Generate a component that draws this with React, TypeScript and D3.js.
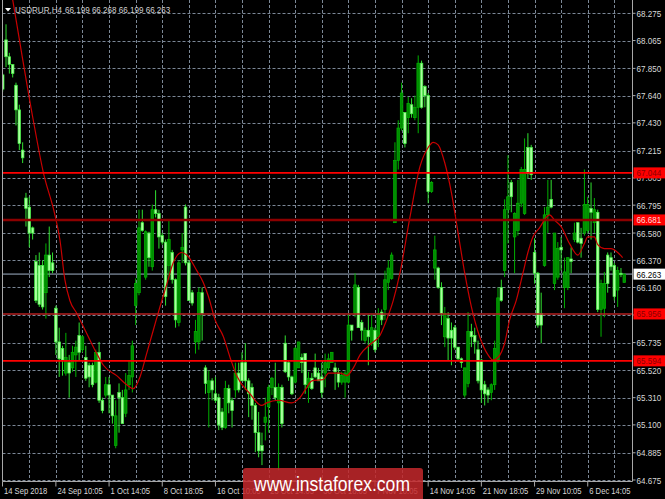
import React from "react";
import * as d3 from "d3";

// ---- Data ----
const barOpen = [
  67.80, 68.07, 67.94, 67.88, 67.72, 67.53, 67.22, 66.85, 66.78, 66.62,
  66.36, 66.33, 66.33, 66.12, 66.41, 66.35, 66.00, 65.74, 65.69, 65.50,
  65.58, 65.54, 65.64, 65.79, 65.68, 65.62, 65.56, 65.56, 65.43, 65.66,
  65.29, 65.33, 65.41, 65.33, 64.94, 65.35, 65.31, 65.19, 65.41, 65.47,
  66.02, 66.12, 66.66, 66.24, 66.58, 66.32, 66.76, 66.73, 66.56, 66.51,
  66.33, 66.43, 66.22, 65.89, 66.45, 66.78, 66.35, 66.12, 65.74, 65.74,
  66.12, 65.54, 65.35, 65.44, 65.34, 65.31, 65.20, 65.08, 65.38, 65.29,
  65.37, 65.50, 65.58, 65.58, 65.44, 65.39, 65.25, 65.04, 64.94, 65.12,
  65.24, 65.39, 65.39, 65.27, 65.39, 65.73, 65.58, 65.47, 65.43, 65.54,
  65.62, 65.65, 65.39, 65.46, 65.54, 65.50, 65.47, 65.50, 65.54, 65.58,
  65.54, 65.50, 65.43, 65.43, 65.43, 65.87, 65.96, 66.16, 65.89, 65.75,
  65.83, 65.73, 65.83, 65.78, 65.97, 65.99, 66.20, 66.23, 66.66, 67.14,
  67.39, 67.51, 67.47, 67.57, 67.47, 67.55, 67.89, 67.71, 67.64, 66.90,
  66.31, 66.31, 66.16, 65.78, 65.92, 65.83, 65.85, 65.70, 65.61, 65.33,
  65.42, 65.82, 65.79, 65.68, 65.60, 65.41, 65.37, 65.35, 65.41, 65.60,
  66.16, 66.29, 66.76, 66.97, 66.55, 66.60, 66.81, 66.73, 67.24, 67.24,
  66.43, 66.27, 65.96, 66.33, 66.72, 66.84, 66.19, 66.24, 66.47, 66.16,
  66.16, 66.38, 66.53, 66.66, 66.54, 66.58, 66.60, 66.77, 66.66, 66.74,
  65.99, 66.00, 66.41, 66.39, 66.33, 66.14, 66.27, 66.199,
];
const barHigh = [
  67.81, 68.19, 67.97, 67.88, 67.74, 67.57, 67.28, 66.89, 66.86, 66.63,
  66.41, 66.43, 66.37, 66.50, 66.63, 66.43, 66.02, 65.85, 65.71, 65.81,
  65.64, 65.71, 65.75, 65.89, 65.79, 65.71, 65.58, 65.58, 65.68, 65.74,
  65.31, 65.47, 65.47, 65.33, 65.29, 65.42, 65.37, 65.50, 65.60, 65.75,
  66.23, 66.76, 66.76, 66.60, 66.59, 66.80, 66.91, 66.76, 66.58, 66.53,
  66.68, 66.45, 66.23, 66.37, 66.58, 66.80, 66.37, 66.14, 65.91, 66.16,
  66.16, 65.56, 65.52, 65.46, 65.47, 65.34, 65.23, 65.44, 65.41, 65.31,
  65.58, 65.58, 65.66, 65.73, 65.46, 65.42, 65.27, 65.20, 65.04, 65.31,
  65.41, 65.47, 65.58, 65.42, 65.41, 65.79, 65.60, 65.48, 65.70, 65.74,
  65.65, 65.65, 65.51, 65.50, 65.65, 65.54, 65.58, 65.65, 65.65, 65.66,
  65.58, 65.54, 65.51, 65.52, 65.96, 65.87, 66.27, 66.18, 65.91, 65.85,
  65.95, 65.95, 65.85, 66.00, 65.99, 66.29, 66.37, 66.43, 67.28, 67.45,
  67.74, 67.51, 67.63, 67.62, 67.64, 67.95, 67.91, 67.72, 67.66, 66.98,
  66.56, 66.32, 66.20, 66.01, 65.97, 65.89, 65.87, 65.70, 65.62, 65.54,
  65.97, 65.88, 65.85, 65.75, 65.61, 65.44, 65.39, 65.42, 65.75, 66.16,
  66.22, 66.84, 67.18, 66.99, 66.74, 66.99, 67.09, 67.31, 67.35, 67.26,
  66.54, 66.28, 66.12, 66.78, 66.99, 66.99, 66.58, 66.51, 66.55, 66.39,
  66.39, 66.47, 66.66, 66.66, 66.62, 67.07, 66.86, 66.97, 66.85, 66.76,
  66.22, 66.28, 66.43, 66.43, 66.35, 66.32, 66.31, 66.268,
];
const barLow = [
  67.67, 67.86, 67.81, 67.78, 67.41, 67.22, 67.12, 66.63, 66.47, 66.53,
  66.04, 66.01, 65.99, 65.92, 66.24, 66.27, 65.64, 65.47, 65.48, 65.48,
  65.31, 65.51, 65.47, 65.60, 65.66, 65.44, 65.39, 65.39, 65.42, 65.27,
  65.19, 65.31, 65.19, 65.11, 64.92, 65.04, 65.11, 65.16, 65.37, 65.35,
  65.87, 66.10, 66.59, 66.22, 66.32, 66.29, 66.70, 66.46, 66.49, 66.02,
  66.22, 66.19, 65.85, 65.86, 66.35, 66.33, 66.06, 66.02, 65.65, 65.68,
  65.75, 65.34, 65.08, 65.29, 65.27, 65.06, 65.06, 65.07, 65.19, 65.08,
  65.31, 65.35, 65.44, 65.37, 65.16, 65.14, 64.89, 64.85, 64.79, 64.98,
  65.04, 65.33, 65.29, 64.75, 65.08, 65.50, 65.44, 65.33, 65.42, 65.54,
  65.50, 65.34, 65.27, 65.37, 65.46, 65.44, 65.31, 65.39, 65.52, 65.58,
  65.37, 65.39, 65.41, 65.31, 65.42, 65.75, 65.93, 65.85, 65.75, 65.73,
  65.56, 65.71, 65.66, 65.70, 65.87, 65.91, 66.14, 66.22, 66.66, 67.07,
  67.37, 67.24, 67.35, 67.47, 67.45, 67.35, 67.54, 67.55, 66.81, 66.89,
  66.22, 66.15, 65.87, 65.70, 65.60, 65.56, 65.68, 65.60, 65.54, 65.31,
  65.39, 65.70, 65.65, 65.42, 65.27, 65.25, 65.27, 65.29, 65.37, 65.58,
  66.05, 66.24, 66.50, 66.74, 66.27, 66.56, 66.78, 66.72, 67.00, 66.99,
  66.19, 65.85, 65.73, 66.32, 66.58, 66.77, 66.14, 66.22, 66.29, 66.00,
  66.14, 66.27, 66.51, 66.50, 66.39, 66.56, 66.58, 66.53, 66.58, 65.97,
  65.78, 65.93, 66.12, 66.29, 66.06, 66.01, 66.24, 66.199,
];
const barClose = [
  67.69, 67.94, 67.88, 67.81, 67.53, 67.27, 67.16, 66.77, 66.58, 66.58,
  66.06, 66.03, 66.01, 66.41, 66.29, 66.29, 65.74, 65.61, 65.60, 65.62,
  65.50, 65.66, 65.70, 65.66, 65.78, 65.46, 65.47, 65.41, 65.66, 65.29,
  65.21, 65.41, 65.33, 65.17, 65.17, 65.31, 65.11, 65.37, 65.48, 65.71,
  66.19, 66.62, 66.60, 66.59, 66.39, 66.76, 66.73, 66.55, 66.51, 66.09,
  66.53, 66.22, 65.91, 66.35, 66.47, 66.35, 66.06, 66.04, 65.82, 66.12,
  65.96, 65.42, 65.44, 65.37, 65.29, 65.10, 65.08, 65.38, 65.27, 65.21,
  65.50, 65.37, 65.44, 65.44, 65.34, 65.25, 65.04, 64.90, 64.90, 65.16,
  65.39, 65.46, 65.31, 65.39, 65.11, 65.51, 65.47, 65.34, 65.69, 65.74,
  65.58, 65.41, 65.46, 65.38, 65.47, 65.44, 65.35, 65.58, 65.61, 65.66,
  65.51, 65.43, 65.48, 65.50, 65.87, 65.83, 66.18, 65.85, 65.83, 65.83,
  65.78, 65.85, 65.68, 65.96, 65.91, 66.22, 66.31, 66.41, 67.14, 67.39,
  67.66, 67.27, 67.58, 67.50, 67.55, 67.89, 67.55, 67.64, 66.90, 66.97,
  66.45, 66.16, 65.96, 65.96, 65.77, 65.77, 65.70, 65.61, 65.58, 65.54,
  65.82, 65.78, 65.74, 65.44, 65.37, 65.34, 65.33, 65.41, 65.69, 66.08,
  66.06, 66.76, 66.86, 66.86, 66.73, 66.81, 67.07, 67.07, 67.04, 67.03,
  66.27, 65.87, 65.87, 66.72, 66.78, 66.78, 66.58, 66.46, 66.45, 66.28,
  66.39, 66.36, 66.58, 66.51, 66.50, 66.80, 66.80, 66.74, 66.76, 65.99,
  66.19, 66.19, 66.19, 66.32, 66.09, 66.29, 66.26, 66.263,
];

// moving average (red line), read at bar positions
const maBars = [
  0, 3, 9.2, 12.2, 15.7, 17.2, 18.7, 20.2, 22.3, 24.8, 28.3, 30.3, 34.3, 37.3,
  39.3, 41.3, 43.3, 45.3, 47.3, 49.3, 51.3, 53.8, 55.4, 58.4, 60.3, 61.9, 63.9,
  66.4, 68.4, 70.4, 74.4, 77.9, 79.4, 82.9, 86.9, 89.4, 91.5, 93, 96.5, 98,
  101.5, 103.5, 105.5, 107.5, 111, 113.5, 115.5, 117.5, 119.5, 122.5, 125.5,
  128, 129.5, 131, 133, 135, 137, 139, 141, 143.5, 146, 147.5, 149, 151, 152.5,
  154.5, 156.5, 158, 159.5, 161.5, 163.5, 164.5, 166, 168, 170.5, 173, 175,
  176, 178, 179, 181, 183, 186.5,
];
const maValues = [
  68.83, 68.38, 67.45, 67.05, 66.72, 66.53, 66.22, 66.06, 65.96, 65.83, 65.65,
  65.56, 65.48, 65.41, 65.38, 65.47, 65.65, 65.83, 66.01, 66.18, 66.35, 66.43,
  66.41, 66.29, 66.20, 66.09, 65.91, 65.78, 65.62, 65.48, 65.34, 65.25, 65.27,
  65.29, 65.27, 65.31, 65.39, 65.44, 65.45, 65.50, 65.50, 65.48, 65.54, 65.64,
  65.73, 65.79, 65.91, 66.06, 66.27, 66.70, 67.09, 67.24, 67.28, 67.26, 67.12,
  66.89, 66.58, 66.27, 66.01, 65.78, 65.64, 65.60, 65.62, 65.73, 65.91, 66.06,
  66.27, 66.43, 66.55, 66.62, 66.70, 66.72, 66.68, 66.63, 66.50, 66.41, 66.50,
  66.55, 66.55, 66.49, 66.46, 66.46, 66.39,
];

const priceTicks = [
  68.275, 68.065, 67.85, 67.64, 67.43, 67.215, 67.005, 66.795, 66.58, 66.37,
  66.16, 65.948, 65.735, 65.52, 65.31, 65.1, 64.885, 64.675,
];
const priceTickLabels = [
  "68.275", "68.065", "67.850", "67.640", "67.430", "67.215", "67.005", "66.795",
  "66.580", "66.370", "66.160", "65.950", "65.735", "65.520", "65.310", "65.100",
  "64.885", "64.675",
];

const timeLabels = [
  "14 Sep 2018", "24 Sep 10:05", "1 Oct 14:05", "8 Oct 18:05", "16 Oct 10:05",
  "23 Oct 14:05", "30 Oct 18:05", "7 Nov 10:05", "14 Nov 14:05", "21 Nov 18:05",
  "29 Nov 10:05", "6 Dec 14:05",
];
const timeLabelBars = [0, 16, 32, 48, 64, 80, 96, 112, 128, 144, 160, 176];

const levelValues = [67.044, 66.681, 65.956, 65.594];
const levelLabels = ["67.044", "66.681", "65.956", "65.594"];
const currentPrice = 66.263;
const symbolName = "USDRUR,H4";
const headerOHLC = ["66.199", "66.268", "66.199", "66.263"];
const watermark = "www.instaforex.com";

// ---- Styles ----
const levelStyles = [
  { stroke: "#ff0000", width: 1.6, text: "#8a0000" },
  { stroke: "#8c0000", width: 2.6, text: "#ffd8d8" },
  { stroke: "#b42020", width: 1.6, text: "#8a0000" },
  { stroke: "#ff0000", width: 1.6, text: "#8a0000" },
];

const FONT = "'Liberation Sans', Arial, sans-serif";

function SqText(props: { x: number; y: number; size: number; fill: string; children: string; sx?: number }) {
  const sx = props.sx ?? 0.85;
  return (
    <text
      transform={`translate(${props.x},${props.y}) scale(${sx},1)`}
      fontFamily={FONT}
      fontSize={props.size}
      fill={props.fill}
    >
      {props.children}
    </text>
  );
}

export default function App() {
  const W = 665;
  const H = 499;
  const plotL = 2.5;
  const plotR = 632.5;
  const plotB = 481.5;

  const n = barOpen.length;
  const x = d3.scaleLinear().domain([0, n - 1]).range([2.7, 624.3]);
  const y = d3.scaleLinear().domain([64.675, 68.275]).range([480, 13.3]);

  const maLine = d3
    .line<number>()
    .x((_, i) => x(maBars[i]))
    .y((d) => y(d))
    .curve(d3.curveMonotoneX);

  const gridBars = d3.range(8, n, 8);
  const bodyW = 2.6;

  return (
    <div style={{ width: W, height: H, overflow: "hidden" }}>
      <style>{`body{margin:0;background:#000}`}</style>
      <svg width={W} height={H} style={{ display: "block", background: "#000" }}>
        <defs>
          <clipPath id="plotClip">
            <rect x={plotL} y={0} width={plotR - plotL} height={plotB} />
          </clipPath>
        </defs>
        <rect x={0} y={0} width={W} height={H} fill="#000" />

        {/* grid */}
        <g stroke="#7b8796" strokeWidth={1} strokeDasharray="3,2">
          {priceTicks.map((v, i) => (
            <line key={"h" + i} x1={plotL} x2={plotR} y1={Math.round(y(v)) + 0.5} y2={Math.round(y(v)) + 0.5} />
          ))}
          {gridBars.map((b) => (
            <line key={"v" + b} x1={Math.round(x(b)) + 0.5} x2={Math.round(x(b)) + 0.5} y1={0} y2={plotB} />
          ))}
        </g>

        <g clipPath="url(#plotClip)">
          {/* current price line */}
          <line x1={plotL} x2={plotR} y1={y(currentPrice)} y2={y(currentPrice)} stroke="#5c6672" strokeWidth={1.6} />

          {/* candles */}
          {barOpen.map((o, i) => {
            const c = barClose[i];
            const bull = c >= o;
            const cx = x(i);
            const top = y(Math.max(o, c));
            const h = Math.max(1, Math.abs(y(o) - y(c)));
            return (
              <g key={"c" + i}>
                <line
                  x1={cx}
                  x2={cx}
                  y1={y(barHigh[i])}
                  y2={y(barLow[i])}
                  stroke={bull ? "#00b000" : "#30e030"}
                  strokeWidth={1}
                />
                <rect
                  x={cx - bodyW / 2}
                  y={top}
                  width={bodyW}
                  height={h}
                  fill={bull ? "#008c00" : "#aaff9e"}
                  stroke={bull ? "#00b400" : "#3ef03e"}
                  strokeWidth={0.7}
                />
              </g>
            );
          })}

          {/* moving average */}
          <path d={maLine(maValues) || ""} fill="none" stroke="#c80000" strokeWidth={1.2} />

          {/* horizontal levels */}
          {levelValues.map((v, i) => (
            <line
              key={"l" + i}
              x1={plotL}
              x2={plotR}
              y1={y(v)}
              y2={y(v)}
              stroke={levelStyles[i].stroke}
              strokeWidth={levelStyles[i].width}
            />
          ))}
        </g>

        {/* frame */}
        <g stroke="#a8a8a8" strokeWidth={1} fill="none">
          <line x1={plotL} x2={plotL} y1={0} y2={plotB} />
          <line x1={plotR} x2={plotR} y1={0} y2={plotB} />
          <line x1={plotL} x2={plotR} y1={plotB} y2={plotB} />
        </g>

        {/* price axis */}
        {priceTicks.map((v, i) => (
          <g key={"pt" + i}>
            <line x1={plotR} x2={plotR + 3} y1={y(v)} y2={y(v)} stroke="#a8a8a8" />
            <SqText x={plotR + 4} y={y(v) + 3.5} size={9.5} fill="#d8d8d8">
              {priceTickLabels[i]}
            </SqText>
          </g>
        ))}

        {/* current price label */}
        <rect x={plotR + 1} y={y(currentPrice) - 5.5} width={W - plotR - 1} height={11} fill="#ffffff" />
        <SqText x={plotR + 4} y={y(currentPrice) + 3.5} size={9.5} fill="#000">
          {currentPrice.toFixed(3)}
        </SqText>

        {/* level labels */}
        {levelValues.map((v, i) => (
          <g key={"ll" + i}>
            <rect x={plotR + 1} y={y(v) - 5.5} width={W - plotR - 1} height={11} fill="#ff0000" />
            <SqText x={plotR + 4} y={y(v) + 3.5} size={9.5} fill={levelStyles[i].text}>
              {levelLabels[i]}
            </SqText>
          </g>
        ))}

        {/* time axis */}
        {timeLabels.map((t, i) => {
          const tx = i === 0 ? plotL : x(timeLabelBars[i]);
          return (
            <g key={"t" + i}>
              <line x1={tx} x2={tx} y1={plotB} y2={plotB + 5} stroke="#a8a8a8" />
              <SqText x={tx + 1.5} y={493.5} size={9} fill="#d8d8d8">
                {t}
              </SqText>
            </g>
          );
        })}

        {/* header */}
        <path d="M5,8 L11,8 L8,11.5 Z" fill="#ffffff" />
        <SqText x={15} y={12.5} size={9.5} fill="#d0d0d0">
          {symbolName}
        </SqText>
        <SqText x={65} y={12.5} size={9.5} fill="#d0d0d0">
          {headerOHLC.join(" ")}
        </SqText>

        {/* watermark */}
        <rect x={243} y={468} width={180} height={36} rx={3} fill="#c4282c" opacity={0.85} />
        <text
          x={254}
          y={491}
          fontFamily={FONT}
          fontSize={21}
          fill="#ffffff"
          textLength={156}
          lengthAdjust="spacingAndGlyphs"
        >
          {watermark}
        </text>
      </svg>
    </div>
  );
}
